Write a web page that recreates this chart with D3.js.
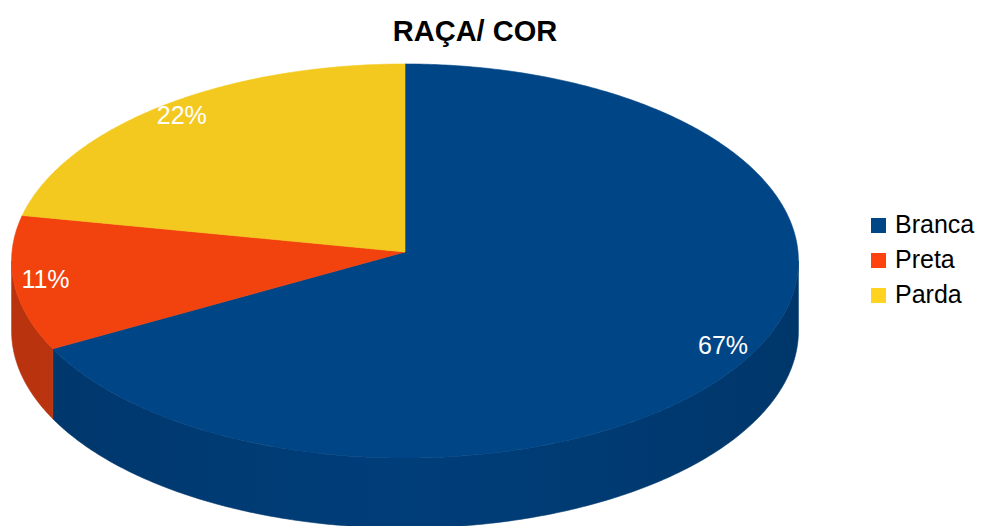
<!DOCTYPE html>
<html>
<head>
<meta charset="utf-8">
<script src="https://cdn.jsdelivr.net/npm/d3@7"></script>
<style>
  body { margin: 0; background: #fff; }
  svg { display: block; }
  text { font-family: "Liberation Sans", Arial, sans-serif; }
</style>
</head>
<body>
<script>
// Data
const categories = ["Branca", "Preta", "Parda"];
const shares = [67, 11, 22];
const valueLabels = ["67%", "11%", "22%"];
const chartTitle = "RAÇA/ COR";

const W = 981, H = 526;
const svg = d3.select("body").append("svg").attr("width", W).attr("height", H);

const topColor = d3.scaleOrdinal().domain(categories).range(["#004586", "#f2420e", "#f3c91f"]);
const sideDark = d3.scaleOrdinal().domain(categories).range(["#00376b", "#b8330e"]);
const sideLight = d3.scaleOrdinal().domain(categories).range(["#003e7a", "#c63a10"]);
const keyColor = d3.scaleOrdinal().domain(categories).range(["#004586", "#ff420e", "#ffd320"]);

// Tilted disk with a mild perspective: unit disk -> screen
const cx = 405, cy = 252, rx = 393, tilt = -185.1, persp = 0.0457, depth = 70;
function proj(a, r = 1, dz = 0) {
  const u = r * Math.sin(a), v = r * Math.cos(a);
  const w = 1 + persp * v;
  return [cx + rx * u / w, (cy + tilt * v) / w + dz];
}
function arcPoints(a0, a1, dz = 0) {
  const n = Math.max(2, Math.ceil((a1 - a0) / 0.01));
  return d3.range(n + 1).map(i => proj(a0 + (a1 - a0) * i / n, 1, dz));
}

// Front-facing range of the rim: from the rightmost to the leftmost point
let aR = 0, aL = 0, xMax = -Infinity, xMin = Infinity;
for (let a = 0; a <= 2 * Math.PI; a += 0.001) {
  const [x] = proj(a);
  if (x > xMax) { xMax = x; aR = a; }
  if (x < xMin) { xMin = x; aL = a; }
}

const pie = d3.pie().sort(null).value(d => d)(shares);
const line = d3.line();
const defs = svg.append("defs");

// Rim walls
const walls = svg.append("g");
pie.forEach((d, i) => {
  const s = Math.max(d.startAngle, aR), e = Math.min(d.endAngle, aL);
  if (s >= e) return;
  const topPts = arcPoints(s, e);
  const botPts = arcPoints(s, e, depth).reverse();
  const gid = "wall" + i;
  const g = defs.append("linearGradient").attr("id", gid)
    .attr("gradientUnits", "userSpaceOnUse")
    .attr("x1", xMin).attr("x2", xMax).attr("y1", 0).attr("y2", 0);
  g.append("stop").attr("offset", "0%").attr("stop-color", sideDark(categories[i]));
  g.append("stop").attr("offset", "50%").attr("stop-color", sideLight(categories[i]));
  g.append("stop").attr("offset", "100%").attr("stop-color", sideDark(categories[i]));
  walls.append("path")
    .attr("d", line(topPts.concat(botPts)) + "Z")
    .attr("fill", `url(#${gid})`)
    .attr("stroke", sideDark(categories[i])).attr("stroke-width", 0.6);
});

// Top faces
const faces = svg.append("g");
pie.forEach((d, i) => {
  const pts = [proj(0, 0)].concat(arcPoints(d.startAngle, d.endAngle));
  faces.append("path")
    .attr("d", line(pts) + "Z")
    .attr("fill", topColor(categories[i]))
    .attr("stroke", topColor(categories[i])).attr("stroke-width", 0.6)
    .attr("stroke-linejoin", "round");
});

// Value labels
pie.forEach((d, i) => {
  const [x, y] = proj((d.startAngle + d.endAngle) / 2, 0.92);
  svg.append("text")
    .attr("x", x).attr("y", y).attr("dy", "0.3em")
    .attr("text-anchor", "middle")
    .attr("fill", "#fff").attr("font-size", 25)
    .text(valueLabels[i]);
});

// Title
svg.append("text")
  .attr("x", 475).attr("y", 41)
  .attr("text-anchor", "middle")
  .attr("font-size", 29).attr("font-weight", "bold").attr("fill", "#000")
  .text(chartTitle);

// Legend
const legend = svg.append("g").attr("transform", "translate(871,233)");
categories.forEach((c, i) => {
  const row = legend.append("g").attr("transform", `translate(0,${i * 35})`);
  row.append("rect").attr("x", 0).attr("y", -15).attr("width", 15).attr("height", 15)
    .attr("fill", keyColor(c));
  row.append("text").attr("x", 24).attr("y", 0)
    .attr("font-size", 25).attr("fill", "#000").text(c);
});
</script>
</body>
</html>
